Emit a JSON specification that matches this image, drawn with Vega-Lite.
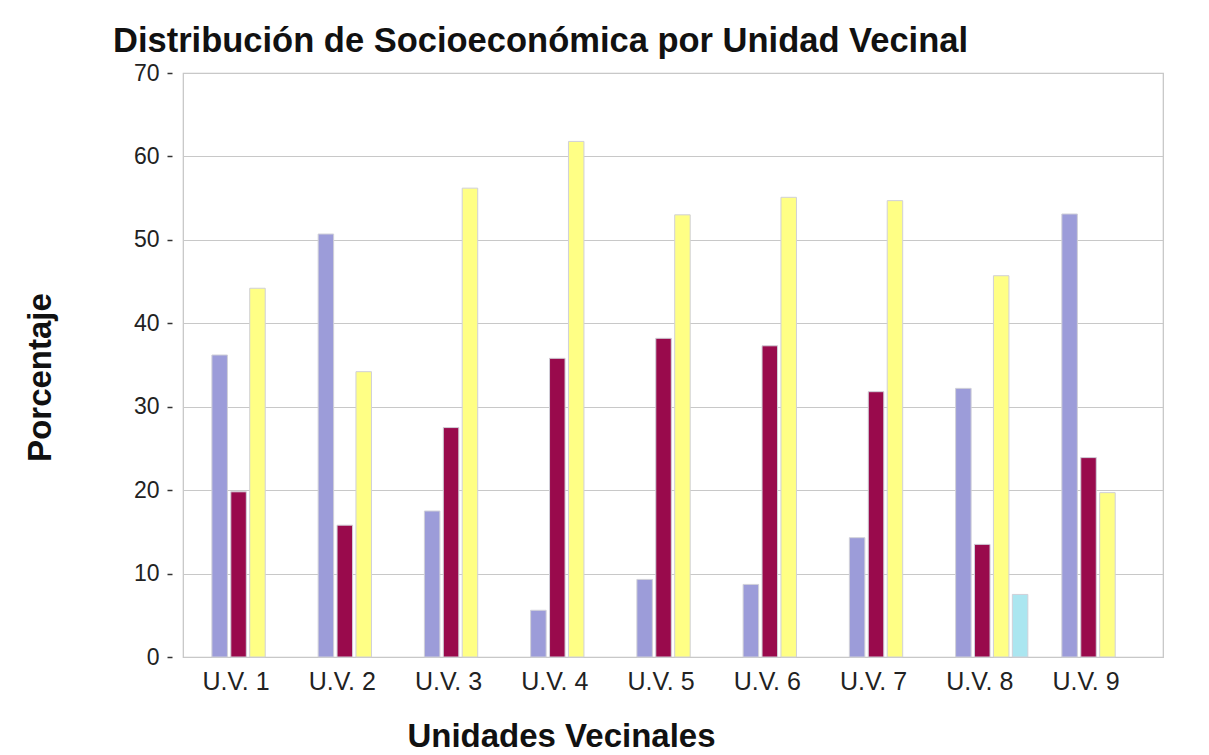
{
  "$schema": "https://vega.github.io/schema/vega-lite/v6.json",
  "width": 980,
  "height": 584,
  "autosize": {"type": "none"},
  "padding": {"left": 183, "top": 73, "right": 46, "bottom": 98},
  "background": "white",
  "title": {
    "text": "Distribución de Socioeconómica por Unidad Vecinal",
    "anchor": "start",
    "frame": "group",
    "dx": -70,
    "offset": 3,
    "font": "Liberation Sans",
    "fontSize": 34.5,
    "fontWeight": "bold",
    "color": "#111111"
  },
  "config": {
    "view": {"stroke": "#c4c4c4", "strokeWidth": 1.2},
    "axis": {"gridColor": "#c8c8c8", "gridWidth": 1, "domain": false}
  },
  "data": {
    "values": [
      {"uv": "U.V. 1", "serie": "Grupo 1", "pct": 36.2},
      {"uv": "U.V. 1", "serie": "Grupo 2", "pct": 19.8},
      {"uv": "U.V. 1", "serie": "Grupo 3", "pct": 44.2},
      {"uv": "U.V. 2", "serie": "Grupo 1", "pct": 50.7},
      {"uv": "U.V. 2", "serie": "Grupo 2", "pct": 15.8},
      {"uv": "U.V. 2", "serie": "Grupo 3", "pct": 34.2},
      {"uv": "U.V. 3", "serie": "Grupo 1", "pct": 17.5},
      {"uv": "U.V. 3", "serie": "Grupo 2", "pct": 27.5},
      {"uv": "U.V. 3", "serie": "Grupo 3", "pct": 56.2},
      {"uv": "U.V. 4", "serie": "Grupo 1", "pct": 5.6},
      {"uv": "U.V. 4", "serie": "Grupo 2", "pct": 35.8},
      {"uv": "U.V. 4", "serie": "Grupo 3", "pct": 61.8},
      {"uv": "U.V. 5", "serie": "Grupo 1", "pct": 9.3},
      {"uv": "U.V. 5", "serie": "Grupo 2", "pct": 38.2},
      {"uv": "U.V. 5", "serie": "Grupo 3", "pct": 53.0},
      {"uv": "U.V. 6", "serie": "Grupo 1", "pct": 8.7},
      {"uv": "U.V. 6", "serie": "Grupo 2", "pct": 37.3},
      {"uv": "U.V. 6", "serie": "Grupo 3", "pct": 55.1},
      {"uv": "U.V. 7", "serie": "Grupo 1", "pct": 14.3},
      {"uv": "U.V. 7", "serie": "Grupo 2", "pct": 31.8},
      {"uv": "U.V. 7", "serie": "Grupo 3", "pct": 54.7},
      {"uv": "U.V. 8", "serie": "Grupo 1", "pct": 32.2},
      {"uv": "U.V. 8", "serie": "Grupo 2", "pct": 13.5},
      {"uv": "U.V. 8", "serie": "Grupo 3", "pct": 45.7},
      {"uv": "U.V. 8", "serie": "Grupo 4", "pct": 7.5},
      {"uv": "U.V. 9", "serie": "Grupo 1", "pct": 53.1},
      {"uv": "U.V. 9", "serie": "Grupo 2", "pct": 23.9},
      {"uv": "U.V. 9", "serie": "Grupo 3", "pct": 19.7}
    ]
  },
  "mark": {"type": "bar", "stroke": "#d0d0d8", "strokeWidth": 1},
  "encoding": {
    "x": {
      "field": "uv",
      "type": "nominal",
      "sort": null,
      "scale": {"paddingInner": 0.32, "paddingOuter": 0.272, "align": 0.5},
      "axis": {
        "title": "Unidades Vecinales",
        "titleFont": "Liberation Sans",
        "titleFontSize": 33,
        "titleFontWeight": "bold",
        "titleColor": "#111111",
        "titleX": 378,
        "titleY": 89,
        "titleBaseline": "alphabetic",
        "labelAngle": 0,
        "labelOffset": -12,
        "labelFont": "Liberation Sans",
        "labelFontSize": 25,
        "labelColor": "#222222",
        "labelPadding": 12,
        "ticks": false,
        "grid": false
      }
    },
    "xOffset": {
      "field": "serie",
      "type": "nominal",
      "scale": {"domain": ["Grupo 1", "Grupo 2", "Grupo 3", "Grupo 4"], "paddingInner": 0.18}
    },
    "y": {
      "field": "pct",
      "type": "quantitative",
      "scale": {"domain": [0, 70], "nice": false},
      "axis": {
        "title": "Porcentaje",
        "titleFont": "Liberation Sans",
        "titleFontSize": 33,
        "titleFontWeight": "bold",
        "titleColor": "#111111",
        "titleX": -122,
        "titleY": 304,
        "titleBaseline": "alphabetic",
        "values": [0, 10, 20, 30, 40, 50, 60, 70],
        "labelFont": "Liberation Sans",
        "labelFontSize": 23,
        "labelColor": "#222222",
        "labelPadding": 8,
        "offset": 11,
        "tickSize": 5,
        "tickColor": "#333333",
        "tickWidth": 1.5,
        "grid": true
      }
    },
    "color": {
      "field": "serie",
      "type": "nominal",
      "scale": {
        "domain": ["Grupo 1", "Grupo 2", "Grupo 3", "Grupo 4"],
        "range": ["#9c9cd9", "#990a4c", "#ffff85", "#abe6f0"]
      },
      "legend": null
    }
  }
}
